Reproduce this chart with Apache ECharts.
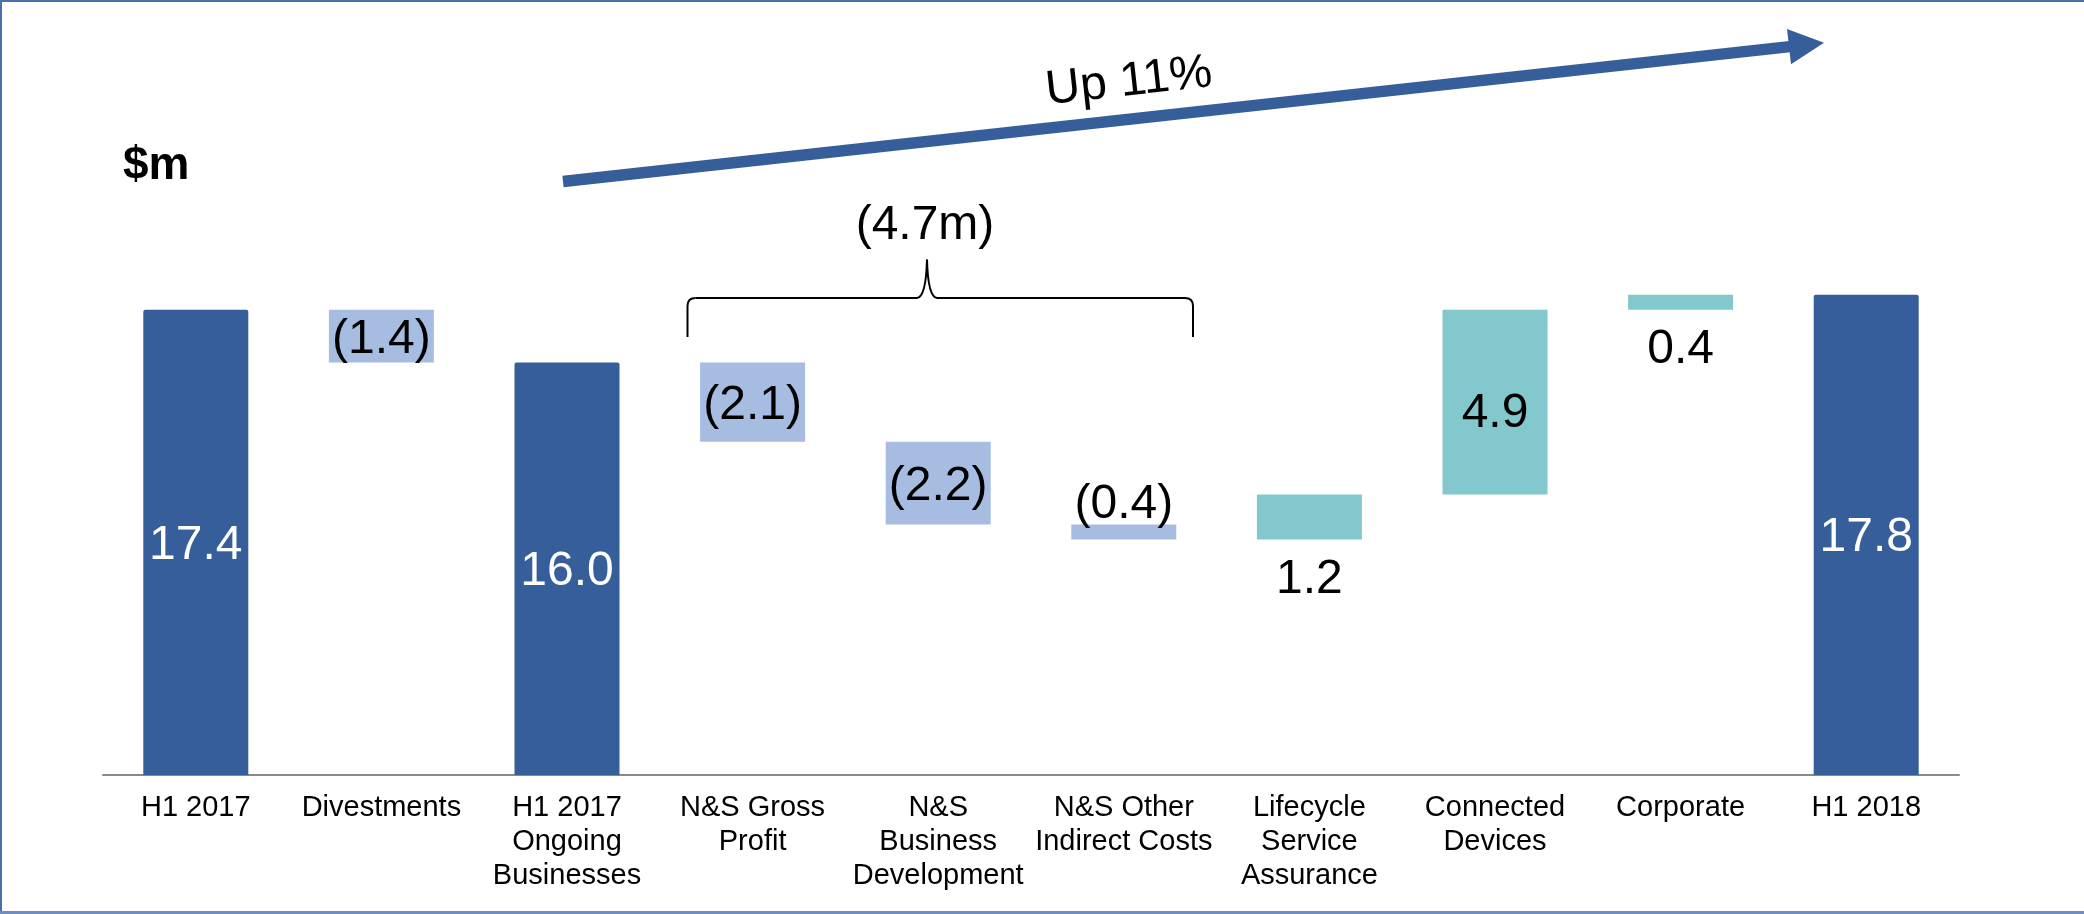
<!DOCTYPE html>
<html>
<head>
<meta charset="utf-8">
<script src="https://cdn.jsdelivr.net/npm/echarts@6/dist/echarts.min.js"></script>
<style>
html,body{margin:0;padding:0;background:#fff;}
#chart{width:2084px;height:914px;}
</style>
</head>
<body>
<div id="chart"></div>
<script>
// ---- data ----
const categories = ['H1 2017', 'Divestments', 'H1 2017\nOngoing\nBusinesses', 'N&S Gross\nProfit',
  'N&S\nBusiness\nDevelopment', 'N&S Other\nIndirect Costs', 'Lifecycle\nService\nAssurance',
  'Connected\nDevices', 'Corporate', 'H1 2018'];
const changes = [17.4, -1.4, 16.0, -2.1, -2.2, -0.4, 1.2, 4.9, 0.4, 17.8];
const isTotal = [true, false, true, false, false, false, false, false, false, true];
const unitLabel = '$m';
const groupLabel = '(4.7m)';
const growthLabel = 'Up 11%';

// ---- build waterfall stacks ----
const r1 = v => Math.round(v * 10) / 10;
const baseData = [], totalData = [], decData = [], incData = [];
let running = 0;
changes.forEach((v, i) => {
  if (isTotal[i]) {
    running = v;
    baseData.push('-'); totalData.push(v); decData.push('-'); incData.push('-');
  } else if (v < 0) {
    running = r1(running + v);
    baseData.push(running); totalData.push('-'); decData.push(-v); incData.push('-');
  } else {
    baseData.push(running); totalData.push('-'); decData.push('-'); incData.push(v);
    running = r1(running + v);
  }
});

const DARK = '#355E9A', LIGHT = '#A6BDE1', TEAL = '#83C8CC';
const FONT = '"Liberation Sans", Arial, sans-serif';
const LBL = 48;

const decItems = decData.map(v => v === '-' ? '-' : {
  value: v,
  label: v >= 1 ? { position: 'inside', offset: [0, 4] } : { position: 'top', distance: -4 }
});
const incItems = incData.map(v => v === '-' ? '-' : {
  value: v,
  label: v >= 2 ? { position: 'inside', offset: [0, 12] } : { position: 'bottom', distance: 16 }
});

const braceStyle = { stroke: '#000', lineWidth: 2, fill: null };
const chart = echarts.init(document.getElementById('chart'));
chart.setOption({
  animation: false,
  backgroundColor: '#fff',
  grid: { left: 103, right: 125, top: 210, bottom: 139 },
  xAxis: {
    type: 'category',
    data: categories,
    axisLine: { lineStyle: { color: '#898989', width: 2 } },
    axisTick: { length: 8, lineStyle: { color: '#898989', width: 2 } },
    axisLabel: { fontSize: 29, color: '#000', fontFamily: FONT, lineHeight: 34, margin: 16, interval: 0 }
  },
  yAxis: { type: 'value', min: 5.05, max: 20.05, show: false, splitLine: { show: false } },
  series: [
    { name: 'base', type: 'bar', stack: 'w', data: baseData, barWidth: 105,
      itemStyle: { color: 'transparent' }, silent: true },
    { name: 'total', type: 'bar', stack: 'w', data: totalData, barWidth: 105,
      itemStyle: { color: DARK, borderRadius: [2, 2, 0, 0] },
      label: { show: true, position: 'inside', offset: [0, 3], color: '#fff', fontSize: LBL, fontFamily: FONT,
        formatter: p => p.value.toFixed(1) } },
    { name: 'decrease', type: 'bar', stack: 'w', data: decItems, barWidth: 105,
      itemStyle: { color: LIGHT },
      label: { show: true, color: '#000', fontSize: LBL, fontFamily: FONT,
        formatter: p => '(' + p.value.toFixed(1) + ')' } },
    { name: 'increase', type: 'bar', stack: 'w', data: incItems, barWidth: 105,
      itemStyle: { color: TEAL },
      label: { show: true, color: '#000', fontSize: LBL, fontFamily: FONT,
        formatter: p => p.value.toFixed(1) } }
  ],
  graphic: [
    // frame
    { type: 'line', shape: { x1: 0, y1: 1, x2: 2084, y2: 1 }, style: { stroke: '#4A70AF', lineWidth: 2 } },
    { type: 'line', shape: { x1: 1, y1: 0, x2: 1, y2: 914 }, style: { stroke: '#4A70AF', lineWidth: 2 } },
    { type: 'line', shape: { x1: 0, y1: 912.5, x2: 2084, y2: 912.5 }, style: { stroke: '#6F8DC2', lineWidth: 3 } },
    // unit label
    { type: 'text', x: 123, y: 166, style: { text: unitLabel, font: 'bold 46px ' + FONT, fill: '#000', align: 'left', verticalAlign: 'middle' } },
    // arrow
    { type: 'line', shape: { x1: 563, y1: 181.5, x2: 1792, y2: 46.4 }, style: { stroke: DARK, lineWidth: 11.5 } },
    { type: 'polygon', shape: { points: [[1787, 29], [1824, 42.7], [1791, 64.3]] }, style: { fill: DARK } },
    { type: 'text', x: 1129, y: 82, rotation: 0.1094,
      style: { text: growthLabel, font: '48px ' + FONT, fill: '#000', align: 'center', verticalAlign: 'middle' } },
    // brace
    { type: 'line', shape: { x1: 687.5, y1: 337, x2: 687.5, y2: 306 }, style: braceStyle },
    { type: 'bezierCurve', shape: { x1: 687.5, y1: 306, cpx1: 687.5, cpy1: 298, x2: 695.5, y2: 298 }, style: braceStyle },
    { type: 'line', shape: { x1: 695.5, y1: 298, x2: 917, y2: 298 }, style: braceStyle },
    { type: 'bezierCurve', shape: { x1: 917, y1: 298, cpx1: 926, cpy1: 297, x2: 927, y2: 259.6 }, style: braceStyle },
    { type: 'bezierCurve', shape: { x1: 927, y1: 259.6, cpx1: 928, cpy1: 297, x2: 937, y2: 298 }, style: braceStyle },
    { type: 'line', shape: { x1: 937, y1: 298, x2: 1185, y2: 298 }, style: braceStyle },
    { type: 'bezierCurve', shape: { x1: 1185, y1: 298, cpx1: 1193, cpy1: 298, x2: 1193, y2: 306 }, style: braceStyle },
    { type: 'line', shape: { x1: 1193, y1: 306, x2: 1193, y2: 337 }, style: braceStyle },
    { type: 'text', x: 925, y: 226,
      style: { text: groupLabel, font: '48px ' + FONT, fill: '#000', align: 'center', verticalAlign: 'middle' } }
  ]
});
</script>
</body>
</html>
